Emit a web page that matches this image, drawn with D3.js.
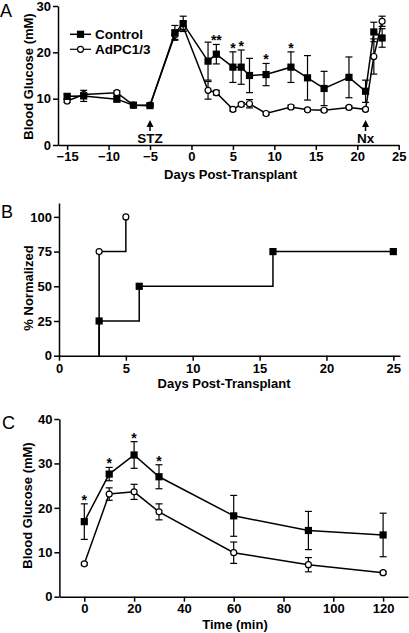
<!DOCTYPE html>
<html><head><meta charset="utf-8">
<script src="https://cdn.jsdelivr.net/npm/d3@7"></script>
<style>
html,body{margin:0;padding:0;background:#fff;}
svg{display:block;font-family:"Liberation Sans",Arial,sans-serif;}
</style></head><body>
<svg id="c" width="409" height="633"></svg>
<script>
// ---------- Panel A data ----------
const daysA = [-15,-13,-9,-7,-5,-2,-1,2,3,5,6,7,9,12,14,16,19,21,22,23];
const controlA = [10.5,10.6,9.9,8.6,8.5,24.2,26.2,18.1,19.6,16.8,16.8,15.0,15.2,16.8,14.5,12.2,14.6,11.6,24.4,23.1];
const controlAErr = [0.5,1.2,0.6,0.4,0.3,1.6,1.6,4.1,2.1,3.3,3.7,3.7,2.4,3.3,4.8,3.7,4.4,2.4,2.1,2.0];
const adpcA = [9.5,10.9,11.3,8.6,8.6,23.8,25.5,11.8,11.3,7.7,8.75,8.9,6.8,8.2,7.6,7.5,8.1,7.7,19.1,26.7];
const adpcAErr = [0.3,0.4,0.4,0.3,0.3,1.0,1.0,1.9,0.5,0.4,0.4,0.9,0.3,0.4,0.3,0.3,0.3,0.3,3.8,1.1];
const starsA = [{day:3,txt:"**"},{day:5,txt:"*"},{day:6,txt:"*"},{day:9,txt:"*"},{day:12,txt:"*"}];
const ticksAx = [-15,-10,-5,0,5,10,15,20,25];
const ticksAy = [0,10,20,30];
const marksA = [{day:-5,label:"STZ"},{day:21,label:"Nx"}];
const seriesNames = ["Control","AdPC1/3"];

// ---------- Panel B data ----------
const controlBDays = [3,6,16,25];
const controlBVals = [25,50,75,75];
const adpcBDays = [3,5];
const adpcBVals = [75,100];
const ticksBx = [0,5,10,15,20,25];
const ticksBy = [0,25,50,75,100];

// ---------- Panel C data ----------
const timesC = [0,10,20,30,60,90,120];
const controlC = [16.9,27.6,31.9,27.0,18.2,14.9,13.9];
const controlCErr = [4.0,1.5,3.0,2.7,4.6,4.3,4.9];
const adpcC = [7.4,23.1,23.6,19.1,9.9,7.2,5.4];
const adpcCErr = [0.3,1.4,1.7,1.8,2.4,1.6,0.3];
const starsCTimes = [0,10,20,30];
const ticksCx = [0,20,40,60,80,100,120];
const ticksCy = [0,10,20,30,40];

const svg = d3.select("#c");
const FONT = "bold 13px 'Liberation Sans', Arial, sans-serif";

function styleAxis(g){
  g.selectAll("path.domain").attr("stroke","#000").attr("stroke-width",1.5);
  g.selectAll(".tick line").attr("stroke","#000").attr("stroke-width",1.5);
  g.selectAll(".tick text").attr("fill","#000").style("font",FONT);
}

function drawAxes(x, y, xt, yt, yPos, xPos, padX){
  const gx = svg.append("g").attr("transform",`translate(0,${yPos})`)
    .call(d3.axisBottom(x).tickValues(xt).tickSize(5).tickSizeOuter(0).tickPadding(padX));
  styleAxis(gx);
  const gy = svg.append("g").attr("transform",`translate(${xPos},0)`)
    .call(d3.axisLeft(y).tickValues(yt).tickSize(5).tickSizeOuter(0).tickPadding(2));
  styleAxis(gy);
}

function errorBars(x, y, xs, vals, errs){
  const g = svg.append("g").attr("stroke","#000").attr("stroke-width",1.2).attr("fill","none");
  xs.forEach((d,i)=>{
    const cx = x(d), t = y(vals[i]+errs[i]), b = y(vals[i]-errs[i]);
    g.append("line").attr("x1",cx).attr("x2",cx).attr("y1",t).attr("y2",b);
    g.append("line").attr("x1",cx-3.5).attr("x2",cx+3.5).attr("y1",t).attr("y2",t);
    g.append("line").attr("x1",cx-3.5).attr("x2",cx+3.5).attr("y1",b).attr("y2",b);
  });
}
function lineSeries(x, y, xs, vals, curve){
  const pts = xs.map((d,i)=>[d,vals[i]]);
  svg.append("path").datum(pts)
    .attr("d", d3.line().x(p=>x(p[0])).y(p=>y(p[1])).curve(curve||d3.curveLinear))
    .attr("fill","none").attr("stroke","#000").attr("stroke-width",1.5);
}
function squares(x, y, xs, vals){
  svg.append("g").selectAll("rect").data(xs).join("rect")
    .attr("x",(d)=>x(d)-3.6).attr("y",(d,i)=>y(vals[i])-3.6)
    .attr("width",7.2).attr("height",7.2).attr("fill","#000");
}
function circles(x, y, xs, vals){
  svg.append("g").selectAll("circle").data(xs).join("circle")
    .attr("cx",d=>x(d)).attr("cy",(d,i)=>y(vals[i])).attr("r",3)
    .attr("fill","#fff").attr("stroke","#000").attr("stroke-width",1.2);
}
function star(xp, yp, txt){
  svg.append("text").attr("x",xp).attr("y",yp).attr("text-anchor","middle")
    .style("font","bold 14px 'Liberation Sans', Arial, sans-serif").attr("fill","#000").text(txt);
}
function panelLetter(txt, xp, yp){
  svg.append("text").attr("x",xp).attr("y",yp).style("font","18px 'Liberation Sans', Arial, sans-serif")
    .attr("fill","#000").text(txt);
}
function yTitle(txt, xp, yp){
  svg.append("text").attr("transform",`translate(${xp},${yp}) rotate(-90)`)
    .attr("text-anchor","middle").style("font",FONT).attr("fill","#000").text(txt);
}
function xTitle(txt, xp, yp){
  svg.append("text").attr("x",xp).attr("y",yp).attr("text-anchor","middle")
    .style("font",FONT).attr("fill","#000").text(txt);
}

// ================= Panel A =================
const xA = d3.scaleLinear().domain([-16.1,25]).range([58,398.7]);
const yA = d3.scaleLinear().domain([0,30]).range([145,6]);
drawAxes(xA, yA, ticksAx, ticksAy, 145, 58, 2);
errorBars(xA,yA,daysA,adpcA,adpcAErr);
lineSeries(xA,yA,daysA,adpcA);
circles(xA,yA,daysA,adpcA);
errorBars(xA,yA,daysA,controlA,controlAErr);
lineSeries(xA,yA,daysA,controlA);
squares(xA,yA,daysA,controlA);
starsA.forEach(s=>{
  const i = daysA.indexOf(s.day);
  star(xA(s.day), yA(controlA[i]+controlAErr[i])+1, s.txt);
});
marksA.forEach(m=>{
  const cx = xA(m.day);
  svg.append("path").attr("d",`M${cx},120 L${cx-3.5},127 L${cx+3.5},127 Z`).attr("fill","#000");
  svg.append("line").attr("x1",cx).attr("x2",cx).attr("y1",126).attr("y2",131).attr("stroke","#000").attr("stroke-width",1.5);
  svg.append("text").attr("x",cx).attr("y",142.5).attr("text-anchor","middle").style("font","bold 13.5px 'Liberation Sans', Arial, sans-serif").attr("fill","#000").text(m.label);
});
// legend
const legY = [34.3, 49.3];
svg.append("line").attr("x1",70).attr("x2",91).attr("y1",legY[0]).attr("y2",legY[0]).attr("stroke","#000").attr("stroke-width",1.5);
svg.append("rect").attr("x",80.5-3.6).attr("y",legY[0]-3.6).attr("width",7.2).attr("height",7.2).attr("fill","#000");
svg.append("line").attr("x1",70).attr("x2",91).attr("y1",legY[1]).attr("y2",legY[1]).attr("stroke","#000").attr("stroke-width",1.2);
svg.append("circle").attr("cx",80.5).attr("cy",legY[1]).attr("r",3).attr("fill","#fff").attr("stroke","#000").attr("stroke-width",1.2);
seriesNames.forEach((n,i)=>{
  svg.append("text").attr("x",95).attr("y",legY[i]+5).style("font","bold 13.5px 'Liberation Sans', Arial, sans-serif").attr("fill","#000").text(n);
});
panelLetter("A",0,17);
yTitle("Blood Glucose (mM)",33,76.5);
xTitle("Days Post-Transplant",230.5,178.5);

// ================= Panel B =================
const xB = d3.scaleLinear().domain([0,25.5]).range([59,400]);
const yB = d3.scaleLinear().domain([0,110]).range([355.7,203]);
drawAxes(xB, yB, ticksBx, ticksBy, 355.7, 59, 3.5);
lineSeries(xB,yB,[controlBDays[0]].concat(controlBDays),[0].concat(controlBVals),d3.curveStepAfter);
lineSeries(xB,yB,[adpcBDays[0]].concat(adpcBDays),[0].concat(adpcBVals),d3.curveStepAfter);
squares(xB,yB,controlBDays,controlBVals);
circles(xB,yB,adpcBDays,adpcBVals);
panelLetter("B",1,218);
yTitle("% Normalized",33,288);
xTitle("Days Post-Transplant",224,388);

// ================= Panel C =================
const xC = d3.scaleLinear().domain([-10,130]).range([59.4,408]);
const yC = d3.scaleLinear().domain([0,40]).range([596.7,419]);
drawAxes(xC, yC, ticksCx, ticksCy, 596.7, 59.4, 2);
errorBars(xC,yC,timesC,adpcC,adpcCErr);
lineSeries(xC,yC,timesC,adpcC);
circles(xC,yC,timesC,adpcC);
errorBars(xC,yC,timesC,controlC,controlCErr);
lineSeries(xC,yC,timesC,controlC);
squares(xC,yC,timesC,controlC);
starsCTimes.forEach(t=>{
  const i = timesC.indexOf(t);
  star(xC(t), yC(controlC[i]+controlCErr[i])+1, "*");
});
panelLetter("C",2,429);
yTitle("Blood Glucose (mM)",32,505.5);
xTitle("Time (min)",235,629);
</script>
</body></html>
